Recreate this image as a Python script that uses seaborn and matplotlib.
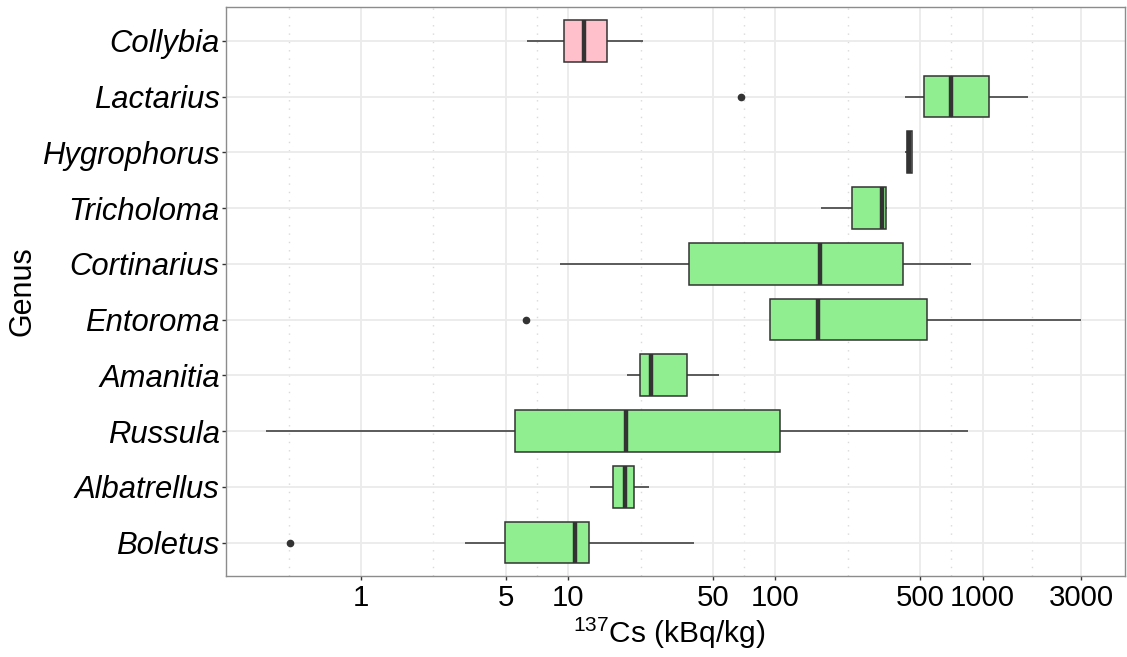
import numpy as np
import pandas as pd
import matplotlib
matplotlib.use("Agg")
import matplotlib.pyplot as plt
from matplotlib.ticker import FixedLocator, NullFormatter
import seaborn as sns

# Genera, top to bottom
genera = ["Collybia", "Lactarius", "Hygrophorus", "Tricholoma", "Cortinarius",
          "Entoroma", "Amanitia", "Russula", "Albatrellus", "Boletus"]

# Five-number summaries of 137Cs activity (kBq/kg) per genus
whisker_low = [6.3, 422, 420, 166, 9.1, 94.5, 19.3, 0.346, 12.7, 3.18]
q1          = [9.55, 523, 430, 233, 38.3, 94.5, 22.1, 5.53, 16.5, 4.94]
median      = [11.9, 706, 442, 326, 165, 160, 25.0, 19.1, 18.7, 10.75]
q3          = [15.3, 1070, 455, 342, 411, 541, 37.3, 105.6, 20.8, 12.6]
whisker_high = [23.0, 1662, 455, 347, 879, 3000, 53.4, 853, 24.5, 40.6]
# Outlying samples (None where there are none)
outliers = [None, 68, None, None, None, 6.26, None, None, None, 0.456]

box_colors = ["pink"] + ["lightgreen"] * 9

x_breaks = [1, 5, 10, 50, 100, 500, 1000, 3000]
x_labels = ["1", "5", "10", "50", "100", "500", "1000", "3000"]

# Sample table: nine values per genus reproduce the quartiles and whiskers
rows = []
for g, lo, a, m, b, hi, out in zip(genera, whisker_low, q1, median, q3,
                                    whisker_high, outliers):
    first = out if out is not None else lo
    for v in [first, lo, a, a, m, b, b, hi, hi]:
        rows.append({"Genus": g, "Cs": v})
df = pd.DataFrame(rows)

sns.set_theme(style="white")
plt.rcParams["font.family"] = ["Liberation Sans", "DejaVu Sans"]

fig = plt.figure(figsize=(11.27, 6.57), dpi=100)
ax = fig.add_axes([0.2005, 0.1233, 0.7977, 0.8656])

dark = "#333333"
sns.boxplot(
    data=df, x="Cs", y="Genus", order=genera, hue="Genus", hue_order=genera,
    palette=box_colors, saturation=1, legend=False, log_scale=True,
    width=0.75, linecolor=dark, linewidth=1.1, whis=1.5,
    medianprops={"linewidth": 3.2, "color": dark},
    capprops={"visible": False},
    flierprops={"marker": "o", "markersize": 4.5, "markerfacecolor": dark,
                "markeredgecolor": dark},
    ax=ax, zorder=3,
)

# Axis limits (log scale with 5% padding, discrete padding of 0.6)
ax.set_xlim(10 ** -0.652, 10 ** 3.687)
ax.set_ylim(len(genera) - 1 + 0.6, -0.6)

ax.set_xticks(x_breaks)
ax.set_xticklabels(x_labels)

# Minor grid halfway between breaks in log space
lb = np.log10(x_breaks)
ext = np.concatenate([[lb[0] - (lb[1] - lb[0])], lb, [lb[-1] + (lb[-1] - lb[-2])]])
minor = 10 ** ((ext[:-1] + ext[1:]) / 2)
ax.xaxis.set_minor_locator(FixedLocator(minor))
ax.xaxis.set_minor_formatter(NullFormatter())

ax.set_axisbelow(True)
ax.grid(True, which="major", axis="both", color="#EBEBEB", linewidth=1.3, zorder=0)
ax.grid(True, which="minor", axis="x", color="#DADADA", linewidth=1.0,
        linestyle=(0, (1, 5)), zorder=0)

for s in ax.spines.values():
    s.set_color("#8C8C8C")
    s.set_linewidth(1.0)

ax.tick_params(axis="x", which="major", length=3, width=1, color=dark,
               pad=3, labelsize=21.2, labelcolor="black")
ax.tick_params(axis="x", which="minor", length=0)
ax.tick_params(axis="y", which="major", length=3, width=1, color=dark,
               pad=1.5, labelsize=22.3, labelcolor="black")
ax.tick_params(left=True, bottom=True)
for lab in ax.get_yticklabels():
    lab.set_fontstyle("italic")

ax.set_xlabel("")
ax.set_ylabel("")
fig.text(669 / 1127, 1 - 633 / 657, r"$\mathregular{^{137}}$Cs (kBq/kg)",
         ha="center", va="center", fontsize=21.5, color="black")
fig.text(22.5 / 1127, 1 - 291.5 / 657, "Genus", rotation=90,
         ha="center", va="center", fontsize=22, color="black")

fig.savefig("out.png", dpi=100)
